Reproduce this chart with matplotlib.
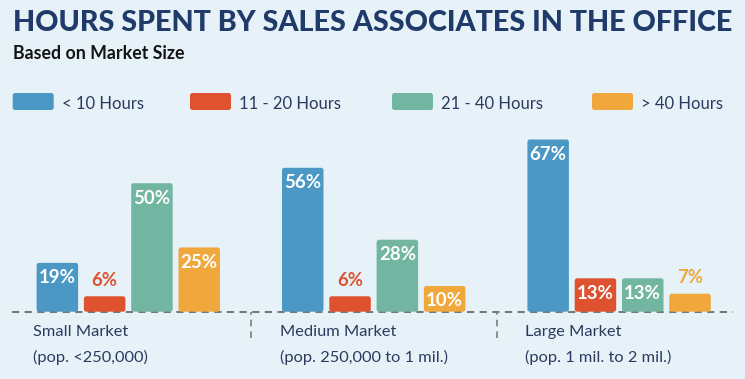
"""
Hours spent by sales associates in the office, grouped by market size.
"""
import matplotlib
matplotlib.use("Agg")
import matplotlib.pyplot as plt
from matplotlib.font_manager import fontManager
from matplotlib.patches import FancyBboxPatch

# -----------------------------------------------------------------------------
# Data
# -----------------------------------------------------------------------------
markets = ["Small Market", "Medium Market", "Large Market"]
populations = ["(pop. <250,000)", "(pop. 250,000 to 1 mil.)", "(pop. 1 mil. to 2 mil.)"]
hour_bins = ["< 10 Hours", "11 - 20 Hours", "21 - 40 Hours", "> 40 Hours"]
under_10 = [19, 56, 67]
h11_20 = [6, 6, 13]
h21_40 = [50, 28, 13]
over_40 = [25, 10, 7]

series = [under_10, h11_20, h21_40, over_40]
colors = ["#4b98c5", "#df5230", "#72b5a1", "#f0a73b"]

BG = "#e6f2f8"
NAVY = "#203a6a"
TEXT = "#2b3a5e"

# Fonts: pick what's installed
names = {f.name for f in fontManager.ttflist}
FONT = next((n for n in ["Lato", "Open Sans", "DejaVu Sans"] if n in names), "DejaVu Sans")

W, H, DPI = 7.45, 3.79, 100
PX_PER_PCT = 2.57
BASE_Y = 311.7  # baseline (pixels from top)

fig = plt.figure(figsize=(W, H), dpi=DPI, facecolor=BG)
ax = fig.add_axes([0, 0, 1, 1])
ax.set_facecolor(BG)
ax.set_xlim(0, 745)
ax.set_ylim(-(379 - BASE_Y) / PX_PER_PCT, BASE_Y / PX_PER_PCT)
ax.axis("off")

renderer = fig.canvas.get_renderer()


def fit_width(t, width_px):
    w = t.get_window_extent(renderer).width
    t.set_fontsize(t.get_fontsize() * width_px / w)
    return t


def ftext(x_px, y_px, s, **kw):
    # x, y in pixels from top-left
    return fig.text(x_px / DPI, (379 - y_px) / DPI, s, transform=fig.dpi_scale_trans,
                    family=FONT, **kw)


# -----------------------------------------------------------------------------
# Titles
# -----------------------------------------------------------------------------
t = ftext(13, 31, "HOURS SPENT BY SALES ASSOCIATES IN THE OFFICE", color=NAVY,
          fontsize=20, fontweight="black", va="baseline")
fit_width(t, 720)
t = ftext(13, 59, "Based on Market Size", color="#141414", fontsize=12,
          fontweight="bold", va="baseline")
fit_width(t, 170)

# -----------------------------------------------------------------------------
# Legend (manual, to match the layout)
# -----------------------------------------------------------------------------
leg_x = [12.7, 190, 392, 592]
for lx, lab, c in zip(leg_x, hour_bins, colors):
    fig.add_artist(FancyBboxPatch((lx / DPI, (379 - 110) / DPI), 41 / DPI, 17 / DPI,
                                  boxstyle="round,pad=0,rounding_size=0.025",
                                  transform=fig.dpi_scale_trans, facecolor=c,
                                  edgecolor="none"))
    ftext(lx + 49, 109, lab, color=TEXT, fontsize=12, va="baseline")

# -----------------------------------------------------------------------------
# Bars
# -----------------------------------------------------------------------------
group_centers = [128.3 + 245.4 * i for i in range(len(markets))]
bar_step = 47.3
bar_w = 41.5

for k, (vals, c) in enumerate(zip(series, colors)):
    xs = [gc + (k - 1.5) * bar_step for gc in group_centers]
    bars = ax.bar(xs, vals, width=bar_w, color=c, linewidth=0)
    for rect, v in zip(bars, vals):
        rect.set_visible(False)
        ax.add_patch(FancyBboxPatch((rect.get_x(), 0), rect.get_width(), rect.get_height(),
                                    boxstyle="round,pad=0,rounding_size=2.5",
                                    mutation_aspect=1 / PX_PER_PCT,
                                    facecolor=c, edgecolor="none", zorder=2))
        cx = rect.get_x() + rect.get_width() / 2
        if v >= 10:
            lt = ax.text(cx, v - 15 / PX_PER_PCT, f"{v}%", color="white", ha="center",
                         va="center", family=FONT, fontweight="bold", fontsize=13, zorder=3)
        else:
            lt = ax.text(cx, v + 16 / PX_PER_PCT, f"{v}%", color=c, ha="center",
                         va="center", family=FONT, fontweight="bold", fontsize=13, zorder=3)
        fit_width(lt, 37 if v >= 10 else 26)

# baseline + dividers
ax.hlines(0, 12, 733, colors="#6b6b6b", linewidth=1.3, linestyles=(0, (4, 3)), zorder=1)
ax.vlines([251, 497], -(338 - BASE_Y) / PX_PER_PCT, 0, colors="#7a7a7a",
          linewidth=1.2, linestyles=(0, (4, 3)))

# category labels
label_x = [33, 280, 525]
for lx, m, p in zip(label_x, markets, populations):
    t1 = ftext(lx, 335.7, m, color=TEXT, fontsize=12.5, va="baseline")
    t2 = ftext(lx, 361.7, p, color=TEXT, fontsize=12.5, va="baseline")
fit_width(fig.texts[-6], 95)
size = fig.texts[-6].get_fontsize()
for tt in fig.texts[-6:]:
    tt.set_fontsize(size)

fig.savefig("out.png", dpi=DPI, facecolor=BG)
